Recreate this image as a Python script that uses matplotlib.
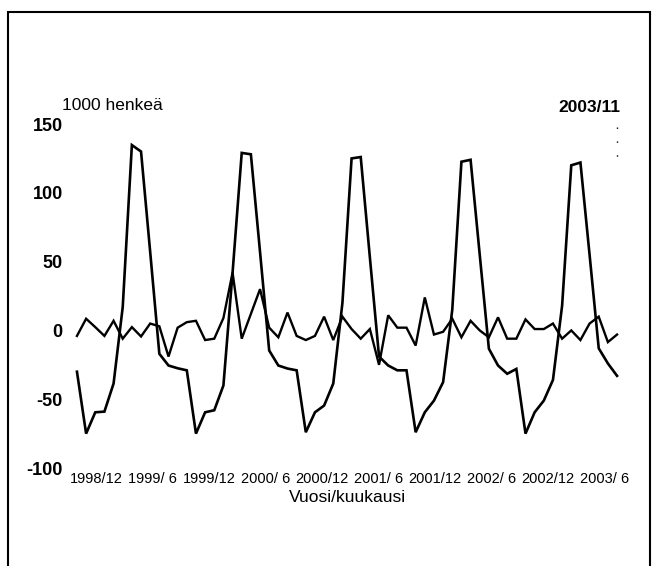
import matplotlib
matplotlib.use("Agg")
import matplotlib.pyplot as plt
import numpy as np
from matplotlib import font_manager
from matplotlib.patches import Rectangle

names = {f.name for f in font_manager.fontManager.ttflist}
FONT = 'Liberation Sans Narrow' if 'Liberation Sans Narrow' in names else 'Liberation Sans'
plt.rcParams['font.family'] = [FONT, 'DejaVu Sans']

# monthly values 1998/12 .. 2003/11, 1000 persons
seasonal = [-30, -75, -59.5, -59, -38.6, 17, 134.7, 130, 57, -17, -25.5, -27.5,
            -29, -75, -59.5, -58, -40, 42, 129, 128, 57, -14.6, -25.5, -27.7,
            -29, -74, -59.5, -54.6, -38.6, 20, 125, 126, 53, -19, -25.5, -29,
            -29, -74, -59.5, -51, -37.6, 15, 122.6, 124, 55, -13.3, -25.5, -31.5,
            -28, -75, -59.5, -51, -36, 18, 120, 122, 55, -13, -24, -33]
irregular = [-4, 8.5, 2.4, -4, 7, -6, 2.4, -4.4, 5, 3, -19, 2,
             6, 7, -7, -6, 9, 42, -6, 12, 30, 2, -5, 13,
             -4, -7, -4, 10, -7, 10, 1, -6, 1, -25, 11, 2,
             2, -11, 24, -3, -1, 8.5, -5, 7, 0, -5, 9.5, -6,
             -6, 8, 1, 1, 5, -6, 0, -7, 5, 10, -8.5, -3]
tick_labels = ['1998/12', '1999/ 6', '1999/12', '2000/ 6', '2000/12',
               '2001/ 6', '2001/12', '2002/ 6', '2002/12', '2003/ 6']
y_ticks = [-100, -50, 0, 50, 100, 150]

months = np.arange(len(seasonal))

fig = plt.figure(figsize=(6.58, 5.66), dpi=100)
ax = fig.add_axes([0.110, 0.1731, 0.8347, 0.6078])

ax.plot(months, seasonal, color='black', lw=1.9, solid_joinstyle='miter')
ax.plot(months, irregular, color='black', lw=1.7, solid_joinstyle='miter')

# dotted marker at the last month
ax.plot([months[-1], months[-1]], [148, 120], color='black', lw=1,
        linestyle=(0, (1, 9)))

ax.set_xlim(-0.5, 59.5)
ax.set_ylim(-100, 150)
ax.set_yticks(y_ticks)
ax.set_yticklabels([str(v) for v in y_ticks], fontsize=13, fontweight='bold')
ax.set_xticks(2.08 + 6.17 * np.arange(len(tick_labels)))
ax.set_xticklabels(tick_labels, fontsize=10.5)
ax.tick_params(axis='both', length=0)
ax.tick_params(axis='x', pad=3)
ax.tick_params(axis='y', pad=7)
for s in ax.spines.values():
    s.set_visible(False)

ax.set_xlabel('Vuosi/kuukausi', fontsize=12.5, labelpad=3)
fig.text(62 / 658, 1 - 105 / 566, '1000 henkeä', fontsize=12.5,
         ha='left', va='center')
fig.text(620 / 658, 1 - 107 / 566, '2003/11', fontsize=12.5, fontweight='bold',
         ha='right', va='center')

fig.patches.append(Rectangle((8 / 658, -0.02), 642 / 658, 0.02 + 1 - 12 / 566,
                             transform=fig.transFigure, fill=False,
                             edgecolor='black', lw=1.5))

fig.savefig('out.png', dpi=100)
